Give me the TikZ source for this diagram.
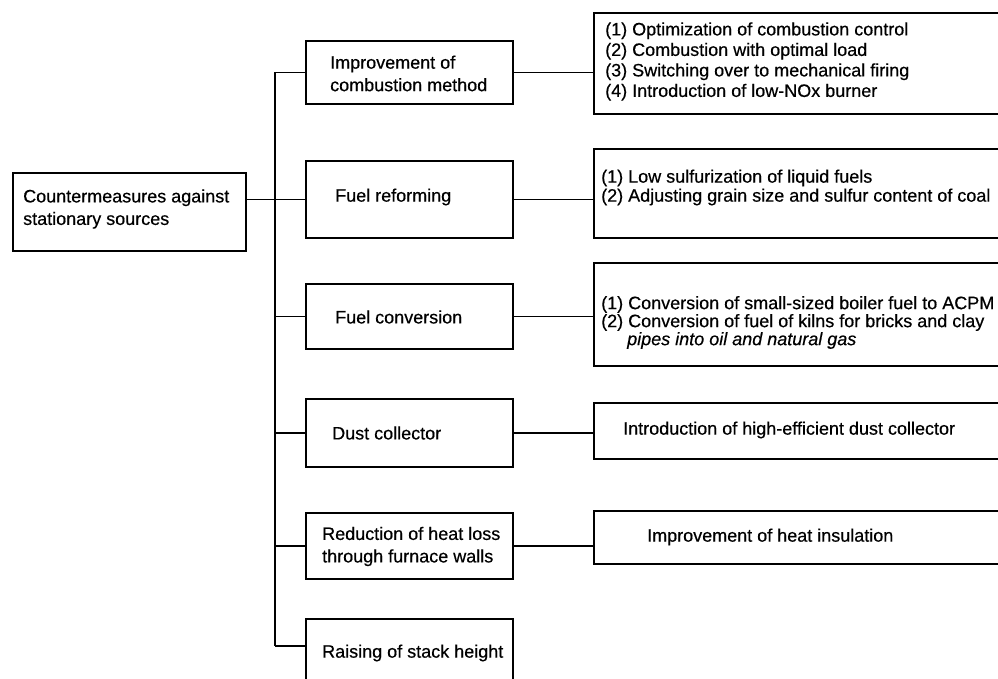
\documentclass[tikz,border=0pt]{standalone}
\usepackage{fontspec}
\setmainfont{Liberation Sans}[FakeBold=0.5]
\begin{document}
\begin{tikzpicture}[x=1pt,y=-1pt,
  box/.style={draw, line width=1.6pt, rectangle, anchor=north west, inner sep=0pt},
  txt/.style={anchor=west, align=left, inner sep=0pt, font=\fontsize{18}{22.5}\selectfont},
  rtxt/.style={anchor=west, align=left, inner sep=0pt, font=\fontsize{18}{#1}\selectfont},
  link/.style={line width=1.5pt}]
\useasboundingbox (0,0) rectangle (998,679);
% boxes
\node[box, minimum width=233pt, minimum height=78pt] (L) at (12,172) {};
\node[box, minimum width=207pt, minimum height=63pt] (M1) at (305,40) {};
\node[box, minimum width=207pt, minimum height=77pt] (M2) at (305,160) {};
\node[box, minimum width=207pt, minimum height=65pt] (M3) at (305,283) {};
\node[box, minimum width=207pt, minimum height=68pt] (M4) at (305,398) {};
\node[box, minimum width=207pt, minimum height=66pt] (M5) at (305,512) {};
\node[box, minimum width=207pt, minimum height=75pt] (M6) at (305,618) {};
\node[box, minimum width=408pt, minimum height=101pt] (R1) at (593,12) {};
\node[box, minimum width=408pt, minimum height=89pt] (R2) at (593,148) {};
\node[box, minimum width=408pt, minimum height=103pt] (R3) at (593,262) {};
\node[box, minimum width=408pt, minimum height=56pt] (R4) at (593,402) {};
\node[box, minimum width=408pt, minimum height=53pt] (R5) at (593,510) {};
% texts
\node[txt] (Lt) at (23,209) {Countermeasures against\\stationary sources};
\node[txt] (M1t) at (330,73.5) {Improvement of\\combustion method};
\node[txt] (M2t) at (335,197) {Fuel reforming};
\node[txt] (M3t) at (335,317) {Fuel conversion};
\node[txt] (M4t) at (332,433) {Dust collector};
\node[txt] (M5t) at (322,546.5) {Reduction of heat loss\\through furnace walls};
\node[txt] (M6t) at (322,653) {Raising of stack height};
\node[rtxt=20.5] (R1t) at (605,61.5) {(1) Optimization of combustion control\\(2) Combustion with optimal load\\(3) Switching over to mechanical firing\\(4) Introduction of low-NOx burner};
\node[rtxt=19] (R2t) at (601,187.5) {(1) Low sulfurization of liquid fuels\\(2) Adjusting grain size and sulfur content of coal};
\node[rtxt=18] (R3t) at (601,322.5) {(1) Conversion of small-sized boiler fuel to ACPM\\(2) Conversion of fuel of kilns for bricks and clay\\\hspace*{26pt}\itshape pipes into oil and natural gas};
\node[txt] (R4t) at (623,430) {Introduction of high-efficient dust collector};
\node[txt] (R5t) at (647,537) {Improvement of heat insulation};
% connectors
\coordinate (bus) at (275,0);
\coordinate (m6in) at ([yshift=-28pt]M6.north west);
\draw[link] (L.east |- M2.west) -- (M2.west);
\foreach \m in {M1,M3,M4,M5} \draw[link] (\m.west) -- (\m.west -| bus);
\draw[link] (m6in) -- (m6in -| bus);
\draw[link] (M1.west -| bus) -- (m6in -| bus);
\draw[link] (M1.east) -- (M1.east -| R1.west);
\draw[link] (M2.east) -- (M2.east -| R2.west);
\draw[link] (M3.east) -- (M3.east -| R3.west);
\draw[link] (M4.east) -- (M4.east -| R4.west);
\draw[link] (M5.east) -- (M5.east -| R5.west);
\end{tikzpicture}
\end{document}
